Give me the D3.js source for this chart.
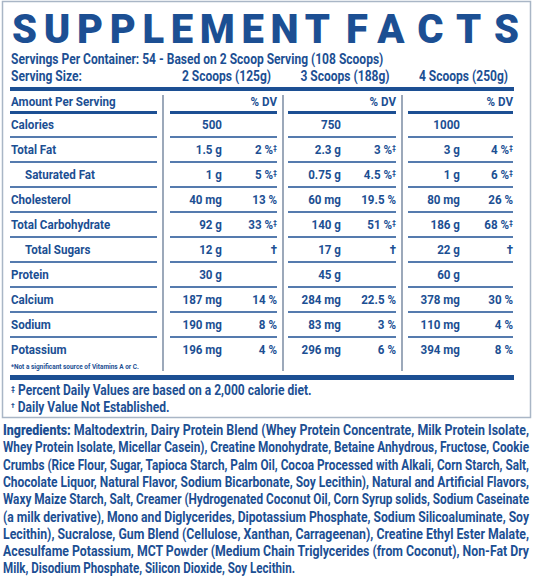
<!DOCTYPE html>
<html>
<head>
<meta charset="utf-8">
<script src="https://cdn.jsdelivr.net/npm/d3@7"></script>
<style>
  body { margin: 0; background: #fff; }
  text { font-family: Roboto, "Liberation Sans", sans-serif; font-weight: bold; }
</style>
</head>
<body>
<div id="wrapper"></div>
<script>
// Data
const servings = ["2 Scoops (125g)", "3 Scoops (188g)", "4 Scoops (250g)"];
const nutrients = ["Calories", "Total Fat", "Saturated Fat", "Cholesterol", "Total Carbohydrate",
  "Total Sugars", "Protein", "Calcium", "Sodium", "Potassium"];
const indented = ["Saturated Fat", "Total Sugars"];
const amounts2 = ["500", "1.5 g", "1 g", "40 mg", "92 g", "12 g", "30 g", "187 mg", "190 mg", "196 mg"];
const amounts3 = ["750", "2.3 g", "0.75 g", "60 mg", "140 g", "17 g", "45 g", "284 mg", "83 mg", "296 mg"];
const amounts4 = ["1000", "3 g", "1 g", "80 mg", "186 g", "22 g", "60 g", "378 mg", "110 mg", "394 mg"];
const dv2 = ["", "2 %‡", "5 %‡", "13 %", "33 %‡", "†", "", "14 %", "8 %", "4 %"];
const dv3 = ["", "3 %‡", "4.5 %‡", "19.5 %", "51 %‡", "†", "", "22.5 %", "3 %", "6 %"];
const dv4 = ["", "4 %‡", "6 %‡", "26 %", "68 %‡", "†", "", "30 %", "4 %", "8 %"];
const ingredientLines = [
  "Maltodextrin, Dairy Protein Blend (Whey Protein Concentrate, Milk Protein Isolate,",
  "Whey Protein Isolate, Micellar Casein), Creatine Monohydrate, Betaine Anhydrous, Fructose, Cookie",
  "Crumbs (Rice Flour, Sugar, Tapioca Starch, Palm Oil, Cocoa Processed with Alkali, Corn Starch, Salt,",
  "Chocolate Liquor, Natural Flavor, Sodium Bicarbonate, Soy Lecithin), Natural and Artificial Flavors,",
  "Waxy Maize Starch, Salt, Creamer (Hydrogenated Coconut Oil, Corn Syrup solids, Sodium Caseinate",
  "(a milk derivative), Mono and Diglycerides, Dipotassium Phosphate, Sodium Silicoaluminate, Soy",
  "Lecithin), Sucralose, Gum Blend (Cellulose, Xanthan, Carrageenan), Creatine Ethyl Ester Malate,",
  "Acesulfame Potassium, MCT Powder (Medium Chain Triglycerides (from Coconut), Non-Fat Dry",
  "Milk, Disodium Phosphate, Silicon Dioxide, Soy Lecithin."
];

const blue = "#1c4f93";
const width = 533, height = 576;
const squeeze = 0.86; // condensed look

const svg = d3.select("#wrapper").append("svg")
  .attr("width", width).attr("height", height);

// condensed text helper
function label(parent, x, y, str, size, anchor) {
  return parent.append("text")
    .attr("transform", `translate(${x},${y}) scale(${squeeze},1)`)
    .attr("text-anchor", anchor || "start")
    .attr("fill", blue).style("font-size", size + "px")
    .text(str);
}

// border box
svg.append("rect").attr("x", 2.5).attr("y", 1.5).attr("width", 528).attr("height", 416)
  .attr("fill", "none").attr("stroke", "#a9b6c6").attr("stroke-width", 1.5);

// Title
svg.append("text").attr("x", 12).attr("y", 43).text("SUPPLEMENT")
  .attr("fill", blue).style("font-size", "40px").style("font-weight", 900)
  .attr("textLength", 318).attr("lengthAdjust", "spacing");
svg.append("text").attr("x", 346).attr("y", 43).text("FACTS")
  .attr("fill", blue).style("font-size", "40px").style("font-weight", 900)
  .attr("textLength", 173).attr("lengthAdjust", "spacing");

label(svg, 11, 64, "Servings Per Container: 54 - Based on 2 Scoop Serving (108 Scoops)", 14);
label(svg, 11, 81, "Serving Size:", 14);

// Columns
const colLeft = [170, 288, 408];
const colRight = [277, 396, 513];
const amtRight = [222, 341, 460];
const vLines = [163, 283, 402];

servings.forEach((s, i) => {
  label(svg, (colLeft[i] + colRight[i]) / 2 + 3, 81, s, 14, "middle");
});

svg.append("rect").attr("x", 10).attr("y", 87).attr("width", 504).attr("height", 4).attr("fill", blue);

// Row scale
const yScale = d3.scaleBand().domain(nutrients).range([112, 362]).paddingInner(0);

vLines.forEach(x => {
  svg.append("line").attr("x1", x).attr("x2", x).attr("y1", 95).attr("y2", 371)
    .attr("stroke", "#5a6f8c").attr("stroke-width", 1.2);
});

// header row
label(svg, 11, 106, "Amount Per Serving", 13.5);
colRight.forEach(x => label(svg, x, 106, "% DV", 13.5, "end"));
const segs = [[10, 157]].concat(colLeft.map((l, i) => [l, colRight[i]]));
segs.forEach(([a, b]) => {
  svg.append("rect").attr("x", a).attr("y", 111).attr("width", b - a).attr("height", 3).attr("fill", blue);
});

// rows
const rows = svg.append("g").selectAll("g").data(nutrients).enter().append("g")
  .attr("transform", d => `translate(0,${yScale(d)})`);

rows.each(function (d, i) {
  const g = d3.select(this);
  label(g, indented.includes(d) ? 25 : 11, 17, d, 13.5);
});

const amountCols = [amounts2, amounts3, amounts4];
const dvCols = [dv2, dv3, dv4];
[0, 1, 2].forEach(c => {
  rows.each(function (d, i) {
    const g = d3.select(this);
    label(g, amtRight[c], 17, amountCols[c][i], 13.5, "end");
    const v = dvCols[c][i];
    if (v.endsWith("‡")) {
      const t = label(g, colRight[c], 17, "", 13.5, "end");
      t.append("tspan").text(v.slice(0, -1));
      t.append("tspan").attr("dy", -4).style("font-size", "8px").text("‡");
    } else {
      label(g, colRight[c], 17, v, 13.5, "end");
    }
  });
});

rows.filter((d, i) => i < nutrients.length - 1).each(function () {
  const g = d3.select(this);
  segs.forEach(([a, b]) => {
    g.append("line").attr("x1", a).attr("x2", b).attr("y1", 25).attr("y2", 25)
      .attr("stroke", blue).attr("stroke-width", 1.3);
  });
});

label(svg, 11, 369, "*Not a significant source of Vitamins A or C.", 7.5);

svg.append("rect").attr("x", 10).attr("y", 375).attr("width", 504).attr("height", 5).attr("fill", blue);

const fn1 = label(svg, 11, 395, "", 14);
fn1.append("tspan").attr("dy", -4).style("font-size", "8px").text("‡");
fn1.append("tspan").attr("dy", 4).text(" Percent Daily Values are based on a 2,000 calorie diet.");
const fn2 = label(svg, 11, 412, "", 14);
fn2.append("tspan").attr("dy", -4).style("font-size", "8px").text("†");
fn2.append("tspan").attr("dy", 4).text(" Daily Value Not Established.");

// Ingredients
const ing = svg.append("g").selectAll("text").data(ingredientLines).enter().append("text")
  .attr("x", 3).attr("y", (d, i) => 435 + i * 17.3)
  .attr("fill", blue).style("font-size", "14px");
ing.each(function (d, i) {
  const t = d3.select(this);
  if (i === 0) {
    t.append("tspan").style("font-weight", 900).text("Ingredients: ");
  }
  t.append("tspan").text(d);
  t.attr("textLength", i < ingredientLines.length - 1 ? 526 : 292)
    .attr("lengthAdjust", "spacingAndGlyphs");
});
</script>
</body>
</html>
